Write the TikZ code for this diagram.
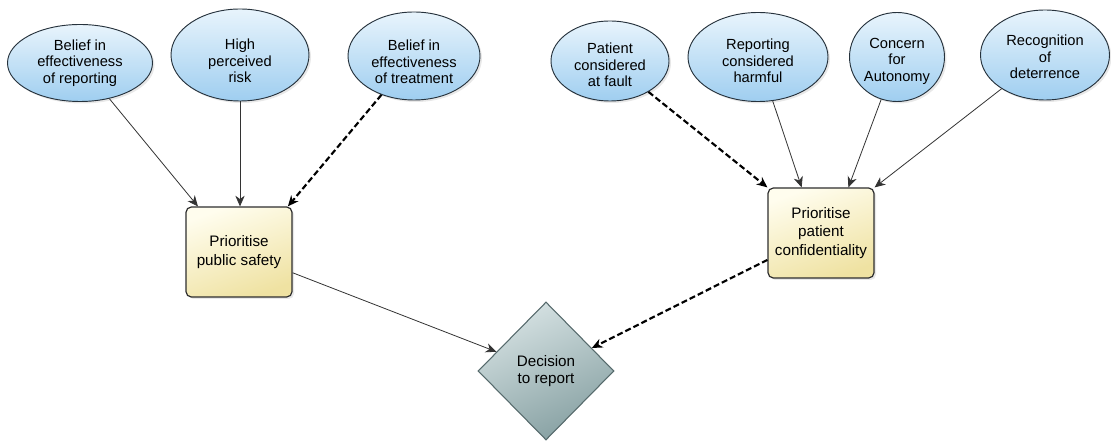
\documentclass[tikz,border=0pt]{standalone}
\usepackage{fontspec}
\setmainfont{Liberation Sans}
\usetikzlibrary{shapes.geometric,arrows.meta,shadows}
\definecolor{bubtop}{HTML}{E8F4FC}
\definecolor{bubbot}{HTML}{9FCEF0}
\definecolor{bubedge}{HTML}{26323C}
\definecolor{boxtop}{HTML}{FFFDEE}
\definecolor{boxbot}{HTML}{EFE2A2}
\definecolor{boxedge}{HTML}{2E2E2E}
\definecolor{dectop}{HTML}{D6E2E3}
\definecolor{decbot}{HTML}{86A0A2}
\definecolor{decedge}{HTML}{566A6C}
\definecolor{linegrey}{HTML}{333333}

\begin{document}
\begin{tikzpicture}[x=.75pt,y=-.75pt,
  factor/.style={ellipse,draw=bubedge,line width=.7pt,top color=bubtop,bottom color=bubbot,
    align=center,inner sep=0pt,font=\fontsize{11}{12.5}\selectfont,
    drop shadow={opacity=.18,shadow xshift=1.5pt,shadow yshift=-1.5pt}},
  priority/.style={rectangle,rounded corners=4pt,draw=boxedge,line width=.9pt,
    shading=axis,top color=boxtop,bottom color=boxbot,shading angle=20,
    align=center,inner sep=0pt,minimum width=79.5pt,minimum height=67.5pt,
    font=\fontsize{11.4}{14}\selectfont,
    drop shadow={opacity=.18,shadow xshift=1.5pt,shadow yshift=-1.5pt}},
  decision/.style={diamond,draw=decedge,line width=.8pt,
    shading=axis,top color=dectop,bottom color=decbot,shading angle=25,
    align=center,inner sep=0pt,minimum width=102pt,minimum height=103.5pt,
    font=\fontsize{11.4}{12.5}\selectfont},
  link/.style={draw=linegrey,line width=.6pt,-{Stealth[length=8pt,width=7pt,inset=2.5pt]}},
  weaklink/.style={draw=black,line width=1.6pt,dash pattern=on 4.5pt off 2.25pt,
    -{Stealth[length=8pt,width=7pt,inset=2.5pt]}}]
\useasboundingbox (0,0) rectangle (1111,441);

\node[factor,minimum width=108.75pt,minimum height=57.75pt] (eff rep) at (80,63) {Belief in\\effectiveness\\of reporting};
\node[factor,minimum width=103.5pt,minimum height=69pt,text height=42pt] (risk) at (240,55) {High\\perceived\\risk};
\node[factor,minimum width=99pt,minimum height=66pt,text height=42pt] (eff treat) at (414,56) {Belief in\\effectiveness\\of treatment};
\node[factor,minimum width=88.5pt,minimum height=60pt,text height=39pt] (fault) at (610,61) {Patient\\considered\\at fault};
\node[factor,minimum width=105pt,minimum height=66.75pt,text height=39pt] (harm) at (758,57) {Reporting\\considered\\harmful};
\node[factor,minimum width=71.25pt,minimum height=66.75pt,text height=39pt] (auton) at (897,57) {Concern\\for\\Autonomy};
\node[factor,minimum width=96.75pt,minimum height=67.5pt,text height=36pt] (deter) at (1045,55) {Recognition\\of\\deterrence};

\node[priority] (safety) at (239,252) {Prioritise\\public safety};
\node[priority] (confid) at (821,233) {Prioritise\\patient\\confidentiality};

\node[decision] (report) at (546,371) {Decision\\to report};

\draw[link] (eff rep) -- (safety.132);
\draw[link] (risk.south) -- (risk.south |- safety.north);
\draw[weaklink] (eff treat) -- (safety.43);

\draw[weaklink] (fault) -- (confid.north west);
\draw[link] (harm) -- (confid.113);
\draw[link] (auton) -- (confid.59);
\draw[link] (deter) -- (confid.north east);

\draw[link] (safety) -- (report);
\draw[weaklink] (confid) -- (report);
\end{tikzpicture}
\end{document}
